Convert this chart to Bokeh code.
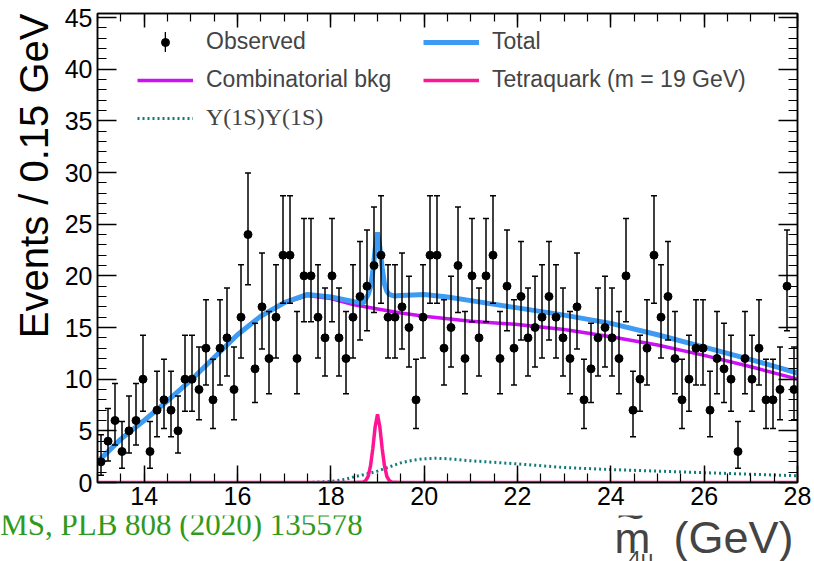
import numpy as np
from bokeh.plotting import figure
from bokeh.layouts import column
from bokeh.models import (ColumnDataSource, Whisker, TeeHead, LinearAxis, SingleIntervalTicker,
                          Range1d, Label, Legend, LegendItem, Title)
from bokeh.embed import file_html
from bokeh.resources import INLINE

# ---------------- data ----------------
BIN_LO = 13.0
BIN_WIDTH = 0.15
counts = [2, 4, 6, 3, 5, 6, 10, 3, 7, 8, 7, 5, 10, 10, 9, 13, 8, 13, 14, 9,
          16, 24, 11, 17, 12, 16, 22, 22, 12, 20, 20, 16, 14, 20, 14,
          12, 16, 18, 19, 21, 22, 16, 16, 17, 15, 8, 16, 22, 22, 13,
          15, 21, 12, 20, 14, 20, 22, 12, 19, 13, 18, 14, 15, 16, 18,
          16, 14, 12, 17,
          8, 11, 14, 15, 14, 12, 20, 7, 10, 13, 22, 16, 18, 12, 8,
          10, 13, 13, 7, 12, 11, 10, 3, 12, 10, 13, 8, 8, 9, 19, 9]

total_x = [13.0, 13.5, 14.0, 14.5, 15.0, 15.5, 16.0, 16.5, 17.0, 17.5, 18.0, 18.5,
           18.7, 18.8, 18.85, 18.9, 18.95, 19.0, 19.05, 19.1, 19.15, 19.2, 19.25,
           19.35, 19.5, 20.0, 20.5, 21.0, 22.0, 23.0, 24.0, 25.0, 26.0, 27.0, 28.0]
total_y = [2.0, 4.2, 6.0, 7.9, 9.9, 12.1, 14.3, 16.1, 17.4, 18.2, 17.95, 17.5,
           17.4, 18.2, 18.9, 20.4, 22.6, 24.2, 22.8, 20.8, 19.2, 18.5, 18.2,
           18.05, 18.1, 18.2, 17.95, 17.6, 16.9, 16.2, 15.4, 14.3, 13.1, 11.9, 10.6]

bkg_x = [13.0, 13.5, 14.0, 14.5, 15.0, 15.5, 16.0, 16.5, 17.0, 17.5, 18.0, 18.5,
         19.0, 19.5, 20.0, 21.0, 22.0, 23.0, 24.0, 25.0, 26.0, 27.0, 28.0]
bkg_y = [2.0, 4.2, 6.0, 7.9, 9.9, 12.1, 14.3, 16.1, 17.4, 18.1, 17.8, 17.2,
         16.8, 16.4, 16.1, 15.6, 15.3, 14.8, 14.1, 13.3, 12.3, 11.2, 10.0]

yy_x = [13.0, 17.5, 18.0, 18.3, 18.5, 18.75, 19.0, 19.25, 19.5, 19.75, 20.0, 20.25,
        20.5, 21.0, 21.5, 22.0, 23.0, 24.0, 25.0, 26.0, 27.0, 28.0]
yy_y = [0.0, 0.0, 0.1, 0.3, 0.55, 0.8, 1.1, 1.5, 1.9, 2.15, 2.3, 2.35,
        2.3, 2.1, 1.95, 1.8, 1.45, 1.25, 1.1, 0.95, 0.8, 0.65]

tq_x = [13.0, 18.5, 18.7, 18.75, 18.8, 18.85, 18.9, 18.95, 19.0, 19.05, 19.1,
        19.15, 19.2, 19.25, 19.3, 19.5, 28.0]
tq_y = [0.0, 0.0, 0.05, 0.2, 0.6, 1.6, 3.3, 5.4, 6.6, 5.4, 3.3,
        1.6, 0.6, 0.2, 0.05, 0.0, 0.0]

# ---------------- derived ----------------
n = np.array(counts, dtype=float)
centers = BIN_LO + BIN_WIDTH * (np.arange(len(n)) + 0.5)
nl = np.where(n > 0, n, 1.0)
lo = np.where(n > 0, nl * (1 - 1 / (9 * nl) - 1 / (3 * np.sqrt(nl))) ** 3, 0.0)
hi = (n + 1) * (1 - 1 / (9 * (n + 1)) + 1 / (3 * np.sqrt(n + 1))) ** 3
src = ColumnDataSource(dict(x=centers, y=n, lo=lo, hi=hi))

BLUE = "#3d9bf3"
MAGENTA = "#cc11f5"
PINK = "#ff1493"
TEAL = "#117b7b"
GREEN = "#2f9a1b"
FONT = "Liberation Sans"

p = figure(width=814, height=515, x_range=Range1d(13, 28), y_range=Range1d(0, 45.39),
           output_backend="svg", toolbar_location=None,
           x_axis_location=None, y_axis_location=None,
           min_border_left=97, min_border_right=17, min_border_top=13, min_border_bottom=33)
p.xgrid.grid_line_color = None
p.ygrid.grid_line_color = None
p.outline_line_color = "black"
p.outline_line_width = 1.5
p.background_fill_color = "white"
p.border_fill_color = "white"


def style_axis(ax, tick_in, minor_in, labels=True):
    ax.major_tick_in = tick_in
    ax.major_tick_out = 0
    ax.minor_tick_in = minor_in
    ax.minor_tick_out = 0
    ax.axis_line_width = 1.5
    ax.major_tick_line_width = 1.5
    ax.minor_tick_line_width = 1.2
    ax.major_label_text_font = FONT
    ax.major_label_text_color = "black"
    if labels:
        ax.major_label_text_font_size = "25px"
        ax.major_label_standoff = 4
    else:
        ax.major_label_text_font_size = "0px"
        ax.major_label_standoff = 0


xb = LinearAxis(ticker=SingleIntervalTicker(interval=2, num_minor_ticks=4))
style_axis(xb, 17, 9)
p.add_layout(xb, "below")
xt = LinearAxis(ticker=SingleIntervalTicker(interval=2, num_minor_ticks=4))
style_axis(xt, 14, 8, labels=False)
p.add_layout(xt, "above")
yl = LinearAxis(ticker=SingleIntervalTicker(interval=5, num_minor_ticks=5))
style_axis(yl, 19, 9)
yl.major_label_standoff = 5
p.add_layout(yl, "left")
yr = LinearAxis(ticker=SingleIntervalTicker(interval=5, num_minor_ticks=5))
style_axis(yr, 19, 9, labels=False)
p.add_layout(yr, "right")

p.add_layout(Title(text="Events / 0.15 GeV", align="right", text_font=FONT,
                   text_font_size="40px", text_font_style="normal", text_color="black",
                   standoff=12), "left")

# curves
r_yy = p.line(yy_x, yy_y, line_color=TEAL, line_width=3, line_dash="2 3")
r_tq = p.line(tq_x, tq_y, line_color=PINK, line_width=3.5)
r_bkg = p.line(bkg_x, bkg_y, line_color=MAGENTA, line_width=3.5)
r_tot = p.line(total_x, total_y, line_color=BLUE, line_width=5)

# data with error bars
wh = Whisker(source=src, base="x", upper="hi", lower="lo", line_color="black", line_width=1.5,
             upper_head=TeeHead(size=6, line_width=1.5, line_color="black"),
             lower_head=TeeHead(size=6, line_width=1.5, line_color="black"), level="glyph")
p.add_layout(wh)
r_obs = p.scatter("x", "y", source=src, size=8, color="black")

# renderer without visible data, used only for the legend's error bar
r_bar = p.vbar(x=[np.nan], top=[np.nan], width=0.1, fill_color="black", line_color=None)


def mk_legend(items, loc, glyph_w=56, glyph_h=20, font=FONT, size="23px", spacing=11):
    lg = Legend(items=items, location=loc, glyph_width=glyph_w, glyph_height=glyph_h,
                label_text_font=font, label_text_font_size=size, label_standoff=13,
                label_height=20, spacing=spacing, padding=0, margin=0,
                border_line_color=None, background_fill_alpha=0)
    p.add_layout(lg, "center")
    return lg


mk_legend([LegendItem(label="Observed", renderers=[r_obs]),
           LegendItem(label="Combinatorial bkg", renderers=[r_bkg])], (40, 389))
mk_legend([LegendItem(label="\u03a5(1S)\u03a5(1S)", renderers=[r_yy])], (40, 351),
          font="Liberation Serif", size="24px")
mk_legend([LegendItem(label="Total", renderers=[r_tot]),
           LegendItem(label="Tetraquark (m = 19 GeV)", renderers=[r_tq])], (326, 389))
mk_legend([LegendItem(label=" ", renderers=[r_bar])], (67, 428), glyph_w=2, glyph_h=25,
          size="1px")

# ---------------- bottom strip with texts ----------------
q = figure(width=814, height=46, x_range=Range1d(0, 814), y_range=Range1d(0, 46),
           output_backend="svg", toolbar_location=None,
           x_axis_location=None, y_axis_location=None, min_border=0)
q.xgrid.grid_line_color = None
q.ygrid.grid_line_color = None
q.outline_line_color = None
q.background_fill_color = "white"
q.border_fill_color = "white"
if "frame_align" in q.properties():
    q.frame_align = False
    p.frame_align = False

q.add_layout(Label(x=-21, y=37, x_units="screen", y_units="screen",
                   text="CMS, PLB 808 (2020) 135578", text_baseline="alphabetic",
                   text_font="Liberation Serif", text_font_size="31px", text_color=GREEN))
q.add_layout(Label(x=614, y=24, x_units="screen", y_units="screen", text="m",
                   text_baseline="alphabetic", text_font=FONT, text_font_size="43px"))
q.add_layout(Label(x=630, y=46, x_units="screen", y_units="screen", text="~",
                   text_align="center", text_baseline="alphabetic", text_font=FONT,
                   text_font_size="48px"))
q.add_layout(Label(x=628, y=3, x_units="screen", y_units="screen", text="4\u03bc",
                   text_baseline="alphabetic", text_font=FONT, text_font_size="22px"))
q.add_layout(Label(x=673, y=24, x_units="screen", y_units="screen", text="(GeV)",
                   text_baseline="alphabetic", text_font=FONT, text_font_size="45px"))

layout = column(p, q, spacing=0)
open("out.html", "w").write(file_html(layout, INLINE))
